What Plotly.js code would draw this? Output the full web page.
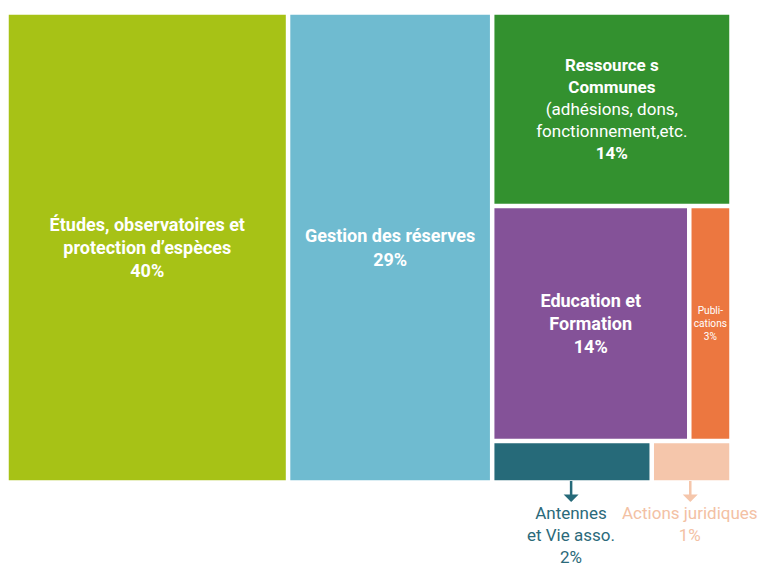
<!DOCTYPE html>
<html><head><meta charset="utf-8">
<script src="https://cdn.plot.ly/plotly-3.0.1.min.js"></script>
<style>html,body{margin:0;padding:0;background:#fff}</style>
</head><body><div id="chart" style="width:780px;height:570px"></div>
<script>
// ---- data ----
const categories = [
  'Études, observatoires et<br>protection d’espèces',
  'Gestion des réserves',
  'Ressource s<br>Communes',
  'Education et<br>Formation',
  'Publi-<br>cations',
  'Antennes<br>et Vie asso.',
  'Actions juridiques'
];
const percentages = [40, 29, 14, 14, 3, 2, 1];
const details = ['', '', '(adhésions, dons,<br>fonctionnement,etc.', '', '', '', ''];
// grouping of the tiles (hierarchy of the drawing)
const groupOf = ['root', 'root', 'Autres', 'EP', 'EP', 'AA', 'AA'];
const groups = ['Autres', 'EP', 'AA'];
const groupParents = ['root', 'Autres', 'Autres'];
const colors = ['#a7c216', '#6fbbd0', '#33912f', '#845298', '#ec7740', '#266a79', '#f5c6ab'];
const outsideLabel = [false, false, false, false, false, true, true];
const boldLabel = [true, true, true, true, false, false, false];
const boldPct = [true, true, true, true, false, false, false];
const fontSizes = [18, 18, 17, 18, 16, 16, 16];

// ---- build hierarchy in drawing order ----
const ids = [], labels = [], parents = [], values = [], texts = [], mcolors = [], sizes = [];
function addNode(id, label, parent, value, text, color, size) {
  ids.push(id); labels.push(label); parents.push(parent); values.push(value);
  texts.push(text); mcolors.push(color); sizes.push(size);
}
function leafText(i) {
  if (outsideLabel[i]) return '';
  let s = boldLabel[i] ? '<b>' + categories[i] + '</b>' : categories[i];
  if (details[i]) s += '<br>' + details[i];
  s += '<br>' + (boldPct[i] ? '<b>' + percentages[i] + '%</b>' : percentages[i] + '%');
  return s;
}
function firstIndex(o) {
  if (o.type === 'leaf') return o.i;
  const g = groups[o.j];
  let best = 99;
  categories.forEach((c, i) => {
    let p = groupOf[i];
    while (p && p !== 'root') {
      if (p === g) { best = Math.min(best, i); break; }
      const k = groups.indexOf(p); p = k >= 0 ? groupParents[k] : null;
    }
  });
  return best;
}
function addChildren(parentId) {
  const order = [];
  categories.forEach((c, i) => { if (groupOf[i] === parentId) order.push({type: 'leaf', i}); });
  groups.forEach((g, j) => { if (groupParents[j] === parentId) order.push({type: 'group', j}); });
  order.sort((a, b) => firstIndex(a) - firstIndex(b));
  order.forEach(o => {
    if (o.type === 'leaf') {
      addNode('n' + o.i, categories[o.i], parentId, percentages[o.i], leafText(o.i), colors[o.i], fontSizes[o.i]);
    } else {
      addNode(groups[o.j], '', parentId, 0, '', '#ffffff', 10);
      addChildren(groups[o.j]);
    }
  });
}
addNode('root', '', '', 0, '', '#ffffff', 10);
addChildren('root');

const FONT = 'Roboto, sans-serif';
const trace = {
  type: 'treemap',
  ids, labels, parents, values,
  branchvalues: 'remainder',
  sort: false,
  tiling: {packing: 'slice-dice'},
  text: texts,
  textinfo: 'text',
  texttemplate: '%{text}',
  textposition: 'middle center',
  textfont: {family: FONT, color: '#ffffff', size: sizes},
  marker: {colors: mcolors, line: {color: '#ffffff', width: 1.5}, pad: {t: 0, l: 0, r: 0, b: 0}},
  leaf: {opacity: 1},
  pathbar: {visible: false},
  hoverinfo: 'skip'
};

// positions of the outside labels, derived from the values
const total = percentages.reduce((a, b) => a + b, 0);
const rightStart = (percentages[0] + percentages[1]) / total;
const rightWidth = 1 - rightStart;
const aaSum = percentages[5] + percentages[6];
const antX = rightStart + rightWidth * (percentages[5] / aaSum) / 2;
const actX = rightStart + rightWidth * (percentages[5] / aaSum + (percentages[6] / aaSum) / 2);

const annFont = {family: FONT, size: 17};
const layout = {
  width: 780, height: 570,
  margin: {l: 8, r: 50, t: 14, b: 89},
  paper_bgcolor: '#ffffff',
  showlegend: false,
  annotations: [
    {x: antX, y: 0, xref: 'paper', yref: 'paper', text: categories[5] + '<br>' + percentages[5] + '%',
     showarrow: true, arrowside: 'start', arrowhead: 2, arrowsize: 1.1, arrowwidth: 2.5, arrowcolor: '#266a79',
     ax: 0, ay: 21, yanchor: 'top', borderpad: 0, font: Object.assign({color: '#2b6a7a'}, annFont)},
    {x: actX, y: 0, xref: 'paper', yref: 'paper', text: categories[6] + '<br>' + percentages[6] + '%',
     showarrow: true, arrowside: 'start', arrowhead: 2, arrowsize: 1.1, arrowwidth: 2.5, arrowcolor: '#f5c6ab',
     ax: 0, ay: 21, yanchor: 'top', borderpad: 0, font: Object.assign({color: '#f3c1a4'}, annFont)}
  ]
};
Plotly.newPlot('chart', [trace], layout, {displayModeBar: false, staticPlot: true});
</script>
</body></html>
